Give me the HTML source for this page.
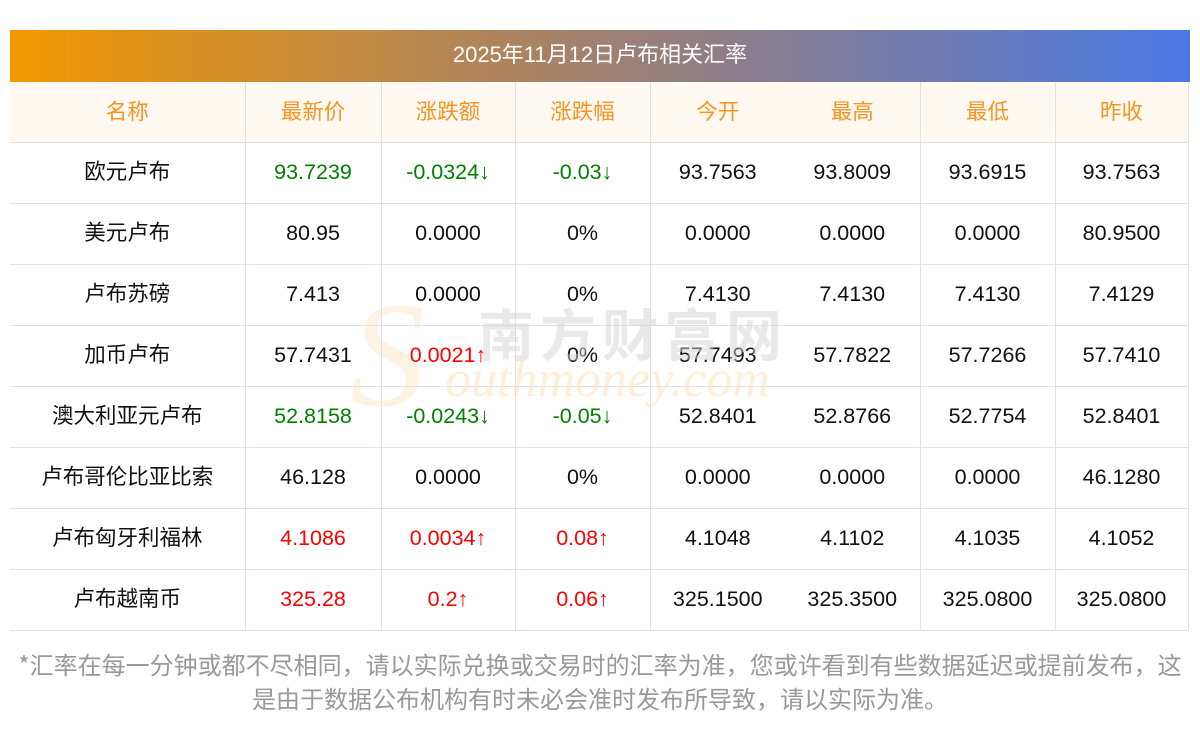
<!DOCTYPE html>
<html><head><meta charset="utf-8"><style>
body{margin:0;width:1200px;height:733px;background:#fff;position:relative;overflow:hidden;font-family:"Liberation Sans","Noto Sans CJK SC",sans-serif}
.title{position:absolute;left:10px;top:30px;width:1180px;height:52px;background:linear-gradient(90deg,#f39800,#a08070 50%,#4a78e6);color:#fff;font-size:22px;line-height:50px;text-align:center}
table{position:absolute;left:10px;top:82px;border-collapse:collapse;table-layout:fixed}
td{height:60px;border-bottom:1px solid #dfe1ea;text-align:center;font-size:21.5px;color:#111;padding:0;line-height:1}
tr.h td{background:#fff9f2;color:#f7931e;border-bottom:1px solid #dfe1ea;font-family:"Noto Sans CJK SC",sans-serif;padding-bottom:3px;height:57px}
td.n{font-family:"Noto Sans CJK SC",sans-serif;padding-bottom:4px;height:56px}
td.b{border-right:1px solid #dfe1ea}
.g{color:#008000}.r{color:#f00}
.foot{position:absolute;left:0;top:647px;width:1200px;text-align:center;color:#999;font-size:24px;line-height:34px;font-family:"Noto Sans CJK SC",sans-serif}
.wm1{position:absolute;left:478px;top:292px;font-size:56px;color:#d4d4d4;opacity:.5;letter-spacing:6px;font-weight:bold}
.wm2{position:absolute;left:445px;top:350px;font-size:52px;color:#fde6c0;opacity:.6;font-style:italic;font-family:"Liberation Serif",serif}
.wm3{position:absolute;left:350px;top:280px;font-size:150px;color:#fde6c0;opacity:.45;font-style:italic;font-family:"Liberation Serif",serif;line-height:150px}
</style></head><body>
<div class="title">2025年11月12日卢布相关汇率</div>
<div class="wm3">S</div>
<table>
<colgroup><col style="width:235px"><col style="width:136px"><col style="width:134px"><col style="width:135px"><col style="width:135px"><col style="width:135px"><col style="width:135px"><col style="width:133px"></colgroup>
<tr class="h"><td class="b">名称</td><td class="b">最新价</td><td class="b">涨跌额</td><td class="b">涨跌幅</td><td>今开</td><td class="b">最高</td><td class="b">最低</td><td class="b">昨收</td></tr>
<tr><td class="b n">欧元卢布</td><td class="b g">93.7239</td><td class="b g">-0.0324↓</td><td class="b g">-0.03↓</td><td>93.7563</td><td class="b">93.8009</td><td class="b">93.6915</td><td class="b">93.7563</td></tr>
<tr><td class="b n">美元卢布</td><td class="b">80.95</td><td class="b">0.0000</td><td class="b">0%</td><td>0.0000</td><td class="b">0.0000</td><td class="b">0.0000</td><td class="b">80.9500</td></tr>
<tr><td class="b n">卢布苏磅</td><td class="b">7.413</td><td class="b">0.0000</td><td class="b">0%</td><td>7.4130</td><td class="b">7.4130</td><td class="b">7.4130</td><td class="b">7.4129</td></tr>
<tr><td class="b n">加币卢布</td><td class="b">57.7431</td><td class="b r">0.0021↑</td><td class="b">0%</td><td>57.7493</td><td class="b">57.7822</td><td class="b">57.7266</td><td class="b">57.7410</td></tr>
<tr><td class="b n">澳大利亚元卢布</td><td class="b g">52.8158</td><td class="b g">-0.0243↓</td><td class="b g">-0.05↓</td><td>52.8401</td><td class="b">52.8766</td><td class="b">52.7754</td><td class="b">52.8401</td></tr>
<tr><td class="b n">卢布哥伦比亚比索</td><td class="b">46.128</td><td class="b">0.0000</td><td class="b">0%</td><td>0.0000</td><td class="b">0.0000</td><td class="b">0.0000</td><td class="b">46.1280</td></tr>
<tr><td class="b n">卢布匈牙利福林</td><td class="b r">4.1086</td><td class="b r">0.0034↑</td><td class="b r">0.08↑</td><td>4.1048</td><td class="b">4.1102</td><td class="b">4.1035</td><td class="b">4.1052</td></tr>
<tr><td class="b n">卢布越南币</td><td class="b r">325.28</td><td class="b r">0.2↑</td><td class="b r">0.06↑</td><td>325.1500</td><td class="b">325.3500</td><td class="b">325.0800</td><td class="b">325.0800</td></tr>
</table>
<div class="wm1">南方财富网</div>
<div class="wm2">outhmoney.com</div>
<div class="foot">*汇率在每一分钟或都不尽相同，请以实际兑换或交易时的汇率为准，您或许看到有些数据延迟或提前发布，这<br>是由于数据公布机构有时未必会准时发布所导致，请以实际为准。</div>
</body></html>
